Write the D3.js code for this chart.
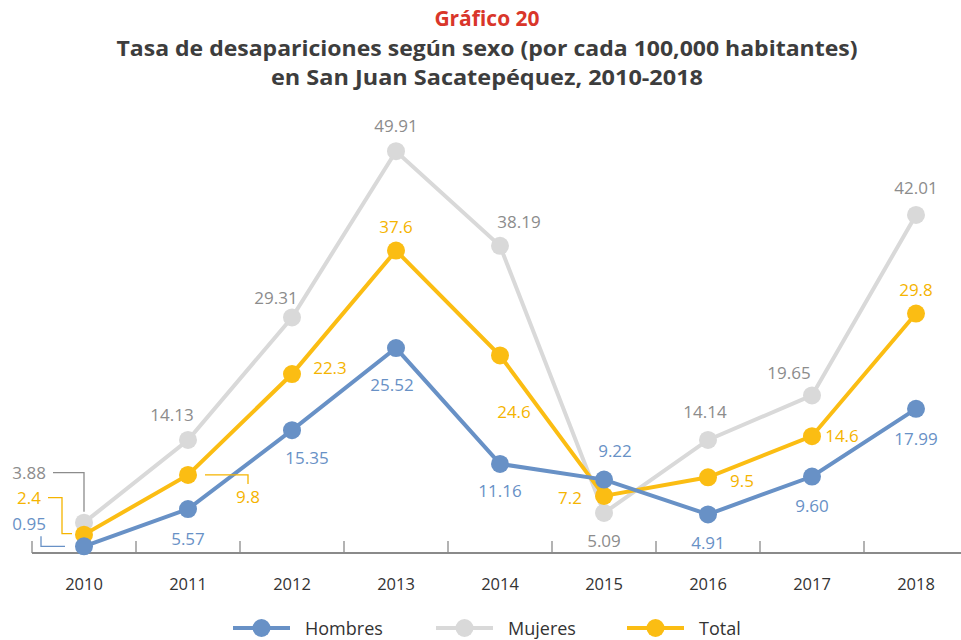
<!DOCTYPE html>
<html>
<head>
<meta charset="utf-8">
<script src="https://cdn.jsdelivr.net/npm/d3@7"></script>
<style>
  body { margin: 0; background: #fff; }
  svg { display: block; }
</style>
</head>
<body>
<svg id="chart"></svg>
<script>
//data
const years = ["2010", "2011", "2012", "2013", "2014", "2015", "2016", "2017", "2018"];
const hombres = [0.95, 5.57, 15.35, 25.52, 11.16, 9.22, 4.91, 9.60, 17.99];
const mujeres = [3.88, 14.13, 29.31, 49.91, 38.19, 5.09, 14.14, 19.65, 42.01];
const total = [2.4, 9.8, 22.3, 37.6, 24.6, 7.2, 9.5, 14.6, 29.8];
const hombresText = ["0.95", "5.57", "15.35", "25.52", "11.16", "9.22", "4.91", "9.60", "17.99"];
const mujeresText = ["3.88", "14.13", "29.31", "49.91", "38.19", "5.09", "14.14", "19.65", "42.01"];
const totalText = ["2.4", "9.8", "22.3", "37.6", "24.6", "7.2", "9.5", "14.6", "29.8"];

// label offsets from the point [dx, dy] (null = drawn with a leader line)
const hombresOff = [null, [0, 29], [15, 27], [-4, 36], [0, 27], [11, -29], [0, 28], [0, 29], [0, 30]];
const mujeresOff = [null, [-16, -25], [-16, -20], [0, -26], [19, -24], [0, 28], [-3, -28], [-23, -23], [0, -27]];
const totalOff = [null, null, [38, -7], [0, -24], [14, 56], [-34, 2], [34, 3], [30, -1], [0, -24]];

const width = 961, height = 640;
const colors = { hombres: "#6891c6", mujeres: "#d9d9d9", total: "#fbbd13" };
const textColors = { hombres: "#6891c6", mujeres: "#8c8c8c", total: "#f5b400" };

const svg = d3.select("#chart").attr("width", width).attr("height", height);

// titles
svg.append("text").attr("x", 487).attr("y", 18).attr("text-anchor", "middle")
  .attr("dominant-baseline", "central")
  .style("font", "bold 21px 'Open Sans'").style("fill", "#d9362a").text("Gráfico 20");
svg.append("text").attr("x", 487).attr("y", 47).attr("text-anchor", "middle")
  .attr("dominant-baseline", "central")
  .style("font", "bold 22px 'Open Sans'").style("fill", "#3d3d3d")
  .attr("textLength", 741).attr("lengthAdjust", "spacingAndGlyphs")
  .text("Tasa de desapariciones según sexo (por cada 100,000 habitantes)");
svg.append("text").attr("x", 487).attr("y", 76).attr("text-anchor", "middle")
  .attr("dominant-baseline", "central")
  .style("font", "bold 22px 'Open Sans'").style("fill", "#3d3d3d")
  .attr("textLength", 432).attr("lengthAdjust", "spacingAndGlyphs")
  .text("en San Juan Sacatepéquez, 2010-2018");

// scales
const xScale = d3.scaleBand().domain(years).range([32, 968]);
const yScale = d3.scaleLinear().domain([0, 50]).range([554, 150.5]);
const cx = d => xScale(d) + xScale.bandwidth() / 2;

// axis
const axisG = svg.append("g").attr("transform", "translate(0,553)");
axisG.append("line").attr("x1", 32).attr("x2", 961).attr("y1", 0).attr("y2", 0)
  .attr("stroke", "#8a8a8a").attr("stroke-width", 2);
const bounds = years.map(d => xScale(d));
axisG.selectAll(".tk").data(bounds).join("line")
  .attr("x1", d => d).attr("x2", d => d).attr("y1", 0).attr("y2", -12)
  .attr("stroke", "#8a8a8a").attr("stroke-width", 1.3);
axisG.selectAll(".yl").data(years).join("text")
  .attr("x", d => cx(d)).attr("y", 30).attr("text-anchor", "middle")
  .attr("dominant-baseline", "central")
  .style("font", "16.5px 'Open Sans'").style("fill", "#333").text(d => d);

// series
const series = [
  { key: "mujeres", values: mujeres, text: mujeresText, off: mujeresOff },
  { key: "total", values: total, text: totalText, off: totalOff },
  { key: "hombres", values: hombres, text: hombresText, off: hombresOff }
];

const line = d3.line().x((d, i) => cx(years[i])).y(d => yScale(d));

series.forEach(s => {
  svg.append("path").datum(s.values).attr("d", line)
    .attr("fill", "none").attr("stroke", colors[s.key]).attr("stroke-width", 4);
  svg.selectAll(".pt-" + s.key).data(s.values).join("circle")
    .attr("cx", (d, i) => cx(years[i])).attr("cy", d => yScale(d)).attr("r", 9)
    .attr("fill", colors[s.key]);
});

series.forEach(s => {
  const items = s.values.map((v, i) => ({ v, i, t: s.text[i], o: s.off[i] }))
    .filter(d => d.o !== null);
  svg.selectAll(".lb-" + s.key).data(items).join("text")
    .attr("x", d => cx(years[d.i]) + d.o[0])
    .attr("y", d => yScale(d.v) + d.o[1])
    .attr("text-anchor", "middle").attr("dominant-baseline", "central")
    .style("font", "17px 'Open Sans'").style("fill", textColors[s.key])
    .text(d => d.t);
});

// leader-line labels near 2010 and 2011
function leader(pts, color) {
  svg.append("path").attr("d", d3.line()(pts)).attr("fill", "none")
    .attr("stroke", color).attr("stroke-width", 1.3);
}
function sideLabel(x, y, txt, color, anchor) {
  svg.append("text").attr("x", x).attr("y", y).attr("text-anchor", anchor)
    .attr("dominant-baseline", "central")
    .style("font", "17px 'Open Sans'").style("fill", color).text(txt);
}
const x0 = cx(years[0]), x1 = cx(years[1]);
const ym = yScale(mujeres[0]), yt = yScale(total[0]), yh = yScale(hombres[0]);
leader([[x0 - 31, ym - 50], [x0, ym - 50], [x0, ym - 11]], textColors.mujeres);
sideLabel(x0 - 38, ym - 50, mujeresText[0], textColors.mujeres, "end");
leader([[x0 - 36, yt - 37], [x0 - 22, yt - 37], [x0 - 22, yt - 1], [x0 - 12, yt - 1]], textColors.total);
sideLabel(x0 - 43, yt - 37, totalText[0], textColors.total, "end");
leader([[x0 - 43, yh - 10], [x0 - 43, yh], [x0 - 19, yh]], textColors.hombres);
sideLabel(x0 - 38, yh - 23, hombresText[0], textColors.hombres, "end");

const y1t = yScale(total[1]);
leader([[x1 + 17, y1t], [x1 + 60, y1t], [x1 + 60, y1t + 9]], textColors.total);
sideLabel(x1 + 60, y1t + 22, totalText[1], textColors.total, "middle");

// legend
const legend = [
  { key: "hombres", label: "Hombres", x: 233 },
  { key: "mujeres", label: "Mujeres", x: 436 },
  { key: "total", label: "Total", x: 627 }
];
const lg = svg.append("g").attr("transform", "translate(0,628)");
legend.forEach(l => {
  lg.append("line").attr("x1", l.x).attr("x2", l.x + 57).attr("y1", 0).attr("y2", 0)
    .attr("stroke", colors[l.key]).attr("stroke-width", 4);
  lg.append("circle").attr("cx", l.x + 28.5).attr("cy", 0).attr("r", 9).attr("fill", colors[l.key]);
  lg.append("text").attr("x", l.x + 72).attr("y", 0).attr("dominant-baseline", "central")
    .style("font", "18px 'Open Sans'").style("fill", "#333").text(l.label);
});
</script>
</body>
</html>
